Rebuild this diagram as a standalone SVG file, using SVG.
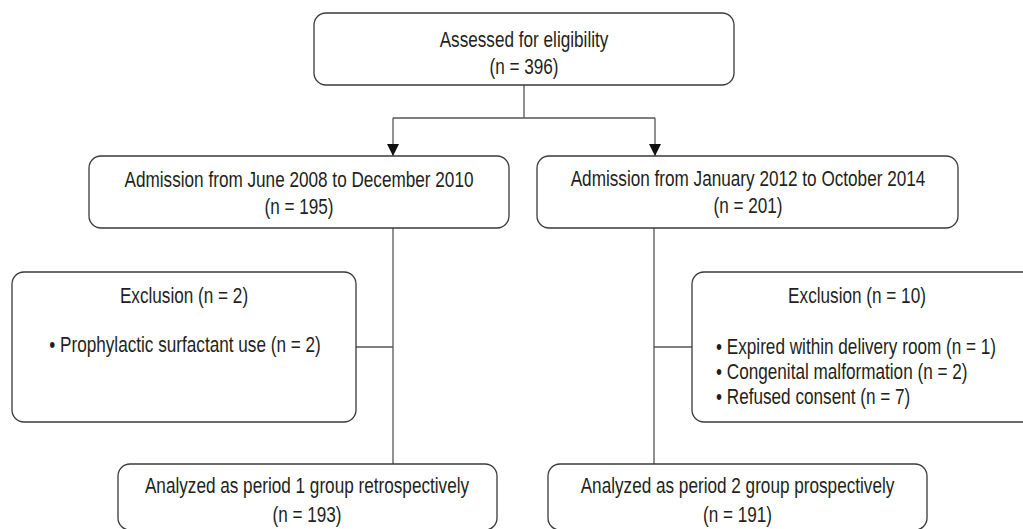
<svg xmlns="http://www.w3.org/2000/svg" width="1023" height="529" viewBox="0 0 1023 529">
<style>
.box{fill:#fff;stroke:#3a3a3a;stroke-width:1.3}
.con{fill:none;stroke:#555;stroke-width:1.3}
.t{font-family:"Liberation Sans",Arial,sans-serif;font-size:22px;fill:#231f20}
.c{text-anchor:middle}
</style>
<defs>
<marker id="arr" markerUnits="userSpaceOnUse" markerWidth="12" markerHeight="13" refX="12" refY="6" orient="auto" viewBox="0 0 12 12">
<path d="M0,0 L12,6 L0,12 Z" fill="#111"/>
</marker>
</defs>
<rect width="1023" height="529" fill="#fff"/>
<g id="connectors">
<line class="con" x1="524" y1="85" x2="524" y2="118"/>
<line class="con" x1="393" y1="118" x2="655" y2="118"/>
<line class="con" x1="393" y1="118" x2="393" y2="156" marker-end="url(#arr)"/>
<line class="con" x1="655" y1="118" x2="655" y2="156" marker-end="url(#arr)"/>
<line class="con" x1="393" y1="228" x2="393" y2="464"/>
<line class="con" x1="356" y1="347" x2="393" y2="347"/>
<line class="con" x1="654" y1="228" x2="654" y2="464"/>
<line class="con" x1="654" y1="347" x2="692" y2="347"/>
</g>
<g id="assessed">
<rect class="box" x="314" y="13" width="420" height="72" rx="12"/>
<text class="t c" transform="translate(524 47) scale(0.78 1)"><tspan x="0" y="0">Assessed for eligibility</tspan><tspan x="0" y="27">(n = 396)</tspan></text>
</g>
<g id="admission1">
<rect class="box" x="89" y="156" width="420" height="72" rx="12"/>
<text class="t c" transform="translate(299 187) scale(0.78 1)"><tspan x="0" y="0">Admission from June 2008 to December 2010</tspan><tspan x="0" y="27">(n = 195)</tspan></text>
</g>
<g id="admission2">
<rect class="box" x="537" y="156" width="421" height="72" rx="12"/>
<text class="t c" transform="translate(748 186) scale(0.78 1)"><tspan x="0" y="0">Admission from January 2012 to October 2014</tspan><tspan x="0" y="27">(n = 201)</tspan></text>
</g>
<g id="exclusion1">
<rect class="box" x="12" y="272" width="344" height="150" rx="12"/>
<text class="t c" transform="translate(184 303) scale(0.78 1)">Exclusion (n = 2)</text>
<text class="t c" transform="translate(185 352) scale(0.78 1)">• Prophylactic surfactant use (n = 2)</text>
</g>
<g id="exclusion2">
<rect class="box" x="692" y="272" width="345" height="150" rx="12"/>
<text class="t c" transform="translate(857 303) scale(0.78 1)">Exclusion (n = 10)</text>
<text class="t" transform="translate(716 354) scale(0.78 1)"><tspan x="0" y="0">• Expired within delivery room (n = 1)</tspan><tspan x="0" y="25">• Congenital malformation (n = 2)</tspan><tspan x="0" y="50">• Refused consent (n = 7)</tspan></text>
</g>
<g id="analyzed1">
<rect class="box" x="118" y="464" width="379" height="66" rx="12"/>
<text class="t c" transform="translate(307 493) scale(0.78 1)"><tspan x="0" y="0">Analyzed as period 1 group retrospectively</tspan><tspan x="0" y="29">(n = 193)</tspan></text>
</g>
<g id="analyzed2">
<rect class="box" x="548" y="464" width="379" height="66" rx="12"/>
<text class="t c" transform="translate(737.5 493) scale(0.78 1)"><tspan x="0" y="0">Analyzed as period 2 group prospectively</tspan><tspan x="0" y="29">(n = 191)</tspan></text>
</g>
</svg>
